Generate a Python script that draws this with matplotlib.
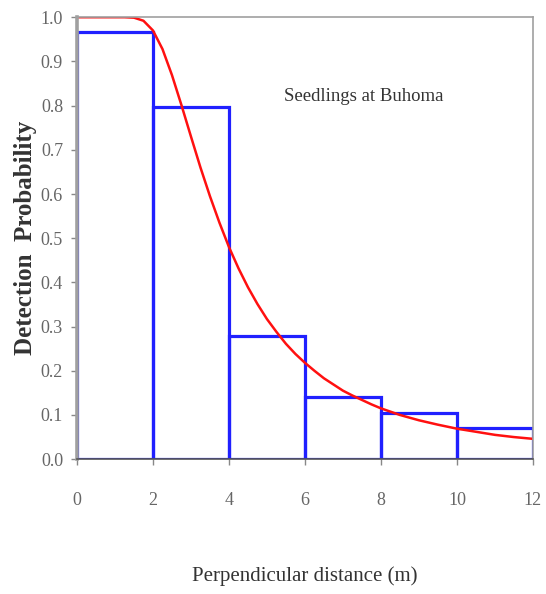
import numpy as np
import matplotlib.pyplot as plt

# histogram of detection probability by distance class
bin_edges = [0, 2, 4, 6, 8, 10, 12]
bin_heights = [0.966, 0.796, 0.278, 0.140, 0.104, 0.070]

# fitted detection curve
curve_x = [0, 0.5, 1.0, 1.25, 1.5, 1.75, 2.0, 2.25, 2.5, 2.75, 3.0, 3.25, 3.5, 3.75,
           4.0, 4.25, 4.5, 4.75, 5.0, 5.25, 5.5, 5.75, 6.0, 6.25, 6.5, 6.75, 7.0,
           7.25, 7.5, 7.75, 8.0, 8.5, 9.0, 9.5, 10.0, 10.5, 11.0, 11.5, 12.0]
curve_y = [1.0, 1.0, 1.0, 1.0, 0.999, 0.992, 0.970, 0.928, 0.869, 0.801, 0.730, 0.660, 0.595, 0.535,
           0.480, 0.432, 0.389, 0.351, 0.317, 0.288, 0.261, 0.238, 0.218, 0.200, 0.183, 0.169, 0.155,
           0.144, 0.134, 0.124, 0.115, 0.100, 0.088, 0.078, 0.069, 0.062, 0.055, 0.050, 0.046]

x_ticks = [0, 2, 4, 6, 8, 10, 12]
y_ticks = np.round(np.arange(0, 1.01, 0.1), 1)

serif = ['Liberation Serif', 'DejaVu Serif']
tick_grey = '#666666'

fig = plt.figure(figsize=(5.46, 5.94), dpi=100)
ax = fig.add_axes([0.141, 0.227, 0.835, 0.744])

#bars as open rectangles
ax.bar(bin_edges[:-1], bin_heights, width=np.diff(bin_edges), align='edge',
       fill=False, edgecolor='#2020ff', linewidth=2.3, zorder=2)

#fitted curve
ax.plot(curve_x, curve_y, color='#ff1010', linewidth=1.8, zorder=3)

ax.set_xlim(0, 12)
ax.set_ylim(0, 1.0)
ax.set_xticks(x_ticks)
ax.set_yticks(y_ticks)
ax.set_xticklabels([str(v) for v in x_ticks], family=serif, fontsize=13, color=tick_grey)
ax.set_yticklabels(['%.1f' % v for v in y_ticks], family=serif, fontsize=13, color=tick_grey)
ax.tick_params(axis='both', direction='out', length=4, width=1, color='#888888')
ax.tick_params(axis='x', pad=20)
ax.tick_params(axis='y', pad=6)

for side in ['left', 'top', 'right']:
    ax.spines[side].set_color('#a0a0a0')
    ax.spines[side].set_linewidth(1.2)
ax.spines['left'].set_linewidth(2.6)
ax.spines['bottom'].set_color('#555555')
ax.spines['bottom'].set_linewidth(1.2)
for sp in ax.spines.values():
    sp.set_zorder(4)

ax.set_xlabel('Perpendicular distance (m)', family=serif, fontsize=15,
              color='#333333', labelpad=41)
ax.set_ylabel('Detection  Probability', family=serif, fontsize=18,
              fontweight='bold', color='#333333', labelpad=3)

ax.text(7.55, 0.82, 'Seedlings at Buhoma', family=serif, fontsize=13.5,
        color='#333333', ha='center', va='center')

fig.savefig('out.png', dpi=100)
